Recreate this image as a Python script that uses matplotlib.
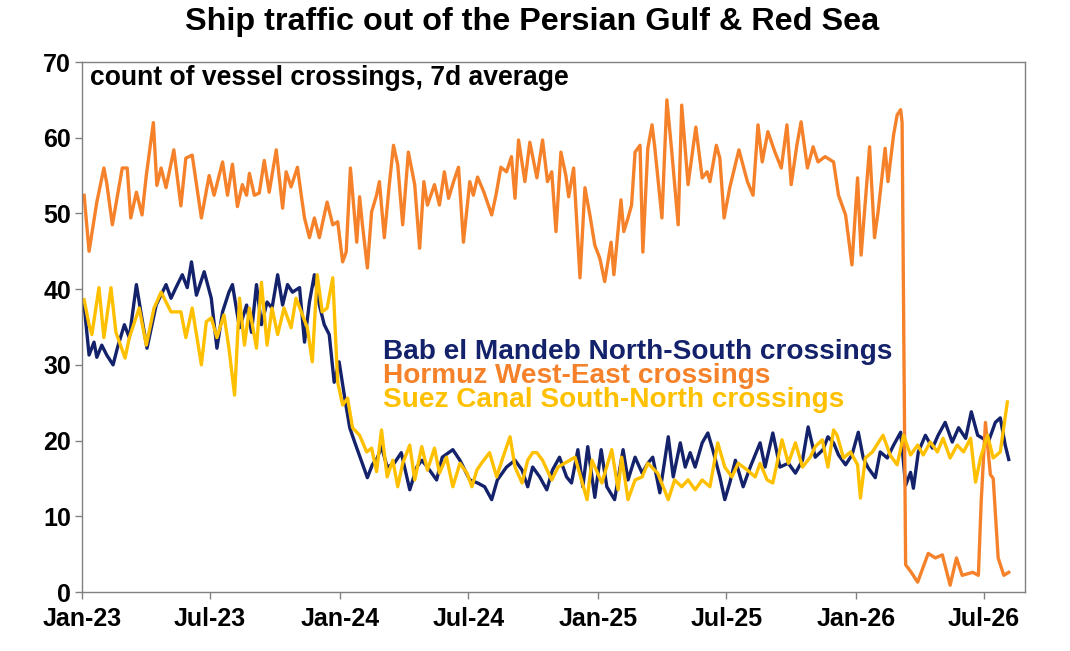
import matplotlib
matplotlib.use('Agg')
import matplotlib.pyplot as plt
import matplotlib.dates as mdates
import pandas as pd

# day offset from 1 Jan 2023, 7d average count
hormuz = [(3,52.4),(10,45),(21,51.5),(31,56),(35,54),(43,48.5),(57,56),(64,56),(69,49.4),(77,52.8),
          (85,49.8),(91,55),(101,62),(106,53.7),(112,56),(119,53.4),(130,58.4),(140,51),(147,57.3),(156,57.7),
          (169,49.4),(180,55),(187,52.4),(199,56.8),(206,52.4),(213,56.5),(220,50.9),(227,53.8),(233,52.4),(237,55.3),
          (244,52.4),(251,52.7),(258,57),(265,52.8),(275,58.4),(284,50.7),(289,55.5),(296,53.5),(305,56.1),(311,52),
          (315,49.4),(322,46.8),(329,49.4),(336,46.8),(347,51.5),(355,48.5),(362,48.9),(369,43.6),(374,44.9),(380,56),
          (389,46.2),(393,52.2),(397,48.5),(404,42.8),(410,50.2),(417,52.4),(421,54.2),(428,46.8),(435,53.8),(441,59),
          (447,56.4),(454,48.5),(462,58.1),(471,53.8),(478,45.4),(484,54.2),(489,51.1),(499,53.8),(506,51.1),(513,55.5),
          (519,52),(526,54.2),(533,56.1),(540,46.2),(549,54.2),(554,52.4),(560,54.8),(569,52.8),(580,49.8),(586,52.4),
          (593,56.1),(601,55.5),(608,57.5),(613,52),(618,59.7),(627,54.2),(634,59.4),(644,54.7),(652,59.7),(659,54.2),
          (665,55.5),(671,47.6),(678,58.1),(685,55),(689,52.2),(696,56),(705,41.5),(712,53.4),(719,49.8),(726,45.8),
          (733,44.1),(740,41),(749,46.2),(753,41.9),(763,51.8),(767,47.6),(773,49.4),(778,51.1),(783,58.1),(790,59),
          (794,44.9),(801,58.6),(807,61.7),(811,58.6),(821,49.4),(828,65),(835,58.1),(844,48.5),(849,64.3),(858,53.8),
          (869,61.4),(878,54.7),(885,55.5),(889,54.2),(898,59),(903,57.3),(909,49.4),(917,53.4),(930,58.4),(942,54.2),
          (950,52.4),(957,61.7),(963,56.8),(971,60.8),(981,58.1),(990,56),(998,61.7),(1004,53.8),(1012,59),(1018,62.1),
          (1027,56),(1035,58.8),(1042,56.8),(1052,57.5),(1064,56.8),(1071,52.4),(1081,49.8),(1090,43.2),(1098,54.7),(1103,44.5),
          (1115,58.8),(1122,46.8),(1127,50.2),(1137,58.6),(1141,54.2),(1149,60.4),(1154,63),(1159,63.7),(1161,62),(1166,3.6),
          (1174,2.6),(1183,1.3),(1198,5.1),(1208,4.5),(1218,4.9),(1229,0.9),(1238,4.5),(1246,2.2),(1261,2.6),(1269,2.2),
          (1273,12),(1279,22.4),(1286,15.5),(1290,15),(1297,4.5),(1305,2.2),(1312,2.6)]

mandeb = [(3,37.9),(10,31.3),(17,33),(21,31),(28,32.6),(35,31.3),(44,30),(50,32.2),(60,35.3),(67,33.6),
          (77,40.6),(84,36.6),(92,32.2),(105,37.9),(119,40.6),(126,38.8),(133,40.2),(142,41.9),(149,40.2),(155,43.6),
          (162,39.2),(173,42.3),(183,38.8),(191,32.2),(199,37),(208,39.6),(213,40.6),(223,34.9),(233,37.9),(240,34.3),
          (247,40.6),(254,35.3),(262,38.3),(269,37.5),(277,41.9),(284,37.9),(291,40.6),(298,39.6),(308,40.2),(315,33),
          (322,38.3),(329,41.9),(336,37.9),(343,35.3),(350,34),(357,27.7),(364,30.4),(372,25.6),(379,21.7),(386,19.8),
          (396,17.2),(404,15.1),(411,16.8),(418,17.7),(424,19.2),(432,16.5),(442,17),(452,18.4),(464,13.5),(474,16.5),
          (481,17.4),(489,16.5),(502,14.8),(510,17.8),(525,18.8),(535,17.4),(549,14.8),(560,14.4),(570,13.9),(580,12.2),
          (588,14.8),(601,16.5),(613,17.4),(623,16.1),(631,13.9),(638,16.5),(648,15.2),(658,13.5),(666,16.1),(676,17.8),
          (686,15.2),(693,14.4),(702,18.8),(709,13.9),(716,19.2),(726,12.5),(735,18.8),(743,13.9),(754,12.2),(766,18.8),
          (773,14.8),(783,17.8),(793,15.7),(801,17),(808,17.8),(818,13.1),(830,20.5),(837,15.2),(847,19.7),(854,16.5),
          (861,18.4),(868,16.5),(878,19.7),(886,21),(893,18.8),(903,15.2),(910,12.2),(917,14.4),(925,17.4),(936,13.9),
          (946,16.5),(960,19.7),(967,16.5),(978,21),(988,16.5),(1000,17),(1010,15.7),(1020,17.4),(1028,21.8),(1038,17.8),
          (1049,18.8),(1056,20.5),(1064,19.7),(1071,18.1),(1081,16.8),(1090,18.1),(1099,21.1),(1106,17.7),(1113,16.4),(1123,15.1),
          (1130,18.5),(1140,17.7),(1149,19.4),(1159,21.1),(1166,14.1),(1173,15.8),(1177,13.7),(1184,18.5),(1194,20.7),(1204,19),
          (1212,20.7),(1222,22.4),(1232,19.8),(1241,21.7),(1251,20.3),(1259,23.8),(1268,20.7),(1275,20.3),(1283,19.8),(1293,22.4),
          (1300,23),(1307,19.4),(1312,17.5)]

suez = [(3,38.6),(10,35.3),(14,34),(24,40.2),(31,33.6),(41,40.2),(48,34.3),(61,30.9),(67,33.6),(81,37.5),
        (91,32.6),(102,37.5),(112,39.6),(126,37),(140,37),(147,33.6),(156,37.5),(169,30),(176,35.7),(183,36.2),
        (191,33.6),(201,36.6),(208,32.2),(216,26),(223,38.8),(230,32.6),(237,37.5),(247,32.2),(254,40.9),(262,32.6),
        (269,37.5),(277,34),(286,37.5),(296,34.9),(303,38.8),(312,36.6),(319,34.9),(326,30.4),(333,41.9),(340,37),
        (347,37.5),(355,41.5),(362,27.7),(369,24.7),(376,25.6),(383,21.7),(393,20.7),(403,18.5),(410,19),(417,15.9),
        (424,21.4),(432,15.2),(440,17.4),(447,13.9),(454,17),(464,19.4),(471,14.8),(481,19.2),(489,16.1),(499,19),
        (506,15.7),(516,17.8),(525,13.9),(535,17),(545,15.7),(552,13.9),(559,16.1),(567,17.2),(577,18.4),(587,15.2),
        (596,17.8),(606,20.5),(613,16.5),(623,14.4),(631,17.4),(638,18.4),(644,18.4),(652,17.4),(665,14.8),(674,16.5),
        (683,17),(698,17.8),(715,12.2),(722,17.4),(736,14.4),(750,18.8),(759,13.5),(764,17.8),(773,12.2),(783,14.8),
        (793,15.2),(801,17),(815,15.7),(830,12.2),(839,14.8),(849,13.9),(858,14.8),(868,13.5),(878,14.8),(889,13.9),
        (900,19.7),(910,16.5),(920,15.2),(929,17),(942,16.1),(953,15.2),(960,17),(970,14.8),(978,14.4),(991,20.1),
        (1000,17),(1010,19.7),(1020,16.5),(1031,17.8),(1038,19.2),(1048,20.1),(1056,16.5),(1064,21.4),(1069,20.7),(1078,17.7),
        (1088,18.5),(1098,16.8),(1102,12.4),(1109,17.7),(1119,18.5),(1134,20.7),(1144,18.1),(1154,16.8),(1163,20.7),(1173,18.1),
        (1183,19.4),(1191,18.1),(1201,19.8),(1211,18.5),(1219,20.3),(1229,17.7),(1239,19.4),(1248,18.5),(1258,20.3),(1265,14.5),
        (1272,17.7),(1282,20.7),(1290,17.7),(1300,18.5),(1310,25.1)]

labels = ['Bab el Mandeb North-South crossings', 'Hormuz West-East crossings', 'Suez Canal South-North crossings']
colors = ['#14226B', '#F5822A', '#FFC000']

start = pd.Timestamp('2023-01-01')

def to_xy(pairs):
    days = [p[0] for p in pairs]
    vals = [p[1] for p in pairs]
    return start + pd.to_timedelta(days, unit='D'), vals

plt.rcParams['font.family'] = ['Liberation Sans', 'DejaVu Sans']
plt.rcParams['font.weight'] = 'bold'

fig = plt.figure(figsize=(10.7, 6.51), dpi=100)
ax = fig.add_axes([82/1070, 1-592/651, (1025-82)/1070, (592-62)/651])

for pairs, c in zip([mandeb, hormuz, suez], colors):
    x, y = to_xy(pairs)
    ax.plot(x, y, color=c, lw=2.4, solid_joinstyle='round')

ax.set_ylim(0, 70)
ax.set_yticks(range(0, 71, 10))
ax.set_xlim(start, pd.Timestamp('2026-08-28'))
ax.xaxis.set_major_locator(mdates.MonthLocator(bymonth=[1, 7]))
ax.xaxis.set_major_formatter(mdates.DateFormatter('%b-%y'))
ax.tick_params(axis='both', labelsize=18, length=5, width=1, color='#808080')
ax.tick_params(axis='y', pad=3)
ax.tick_params(axis='x', pad=6)
for s in ax.spines.values():
    s.set_color('#808080')
    s.set_linewidth(1)

fig.text(0.497, 1-30/651, 'Ship traffic out of the Persian Gulf & Red Sea',
         ha='center', va='baseline', fontsize=23.3)
ax.text(0.0085, 0.9566, 'count of vessel crossings, 7d average', transform=ax.transAxes,
        ha='left', va='baseline', fontsize=19.1)

# legend as coloured text
for i, (lab, c) in enumerate(zip(labels, colors)):
    ax.text(0.319, 0.4400 - i*24/530, lab, color=c, transform=ax.transAxes,
            ha='left', va='baseline', fontsize=20.2)

fig.savefig('out.png', dpi=100)
